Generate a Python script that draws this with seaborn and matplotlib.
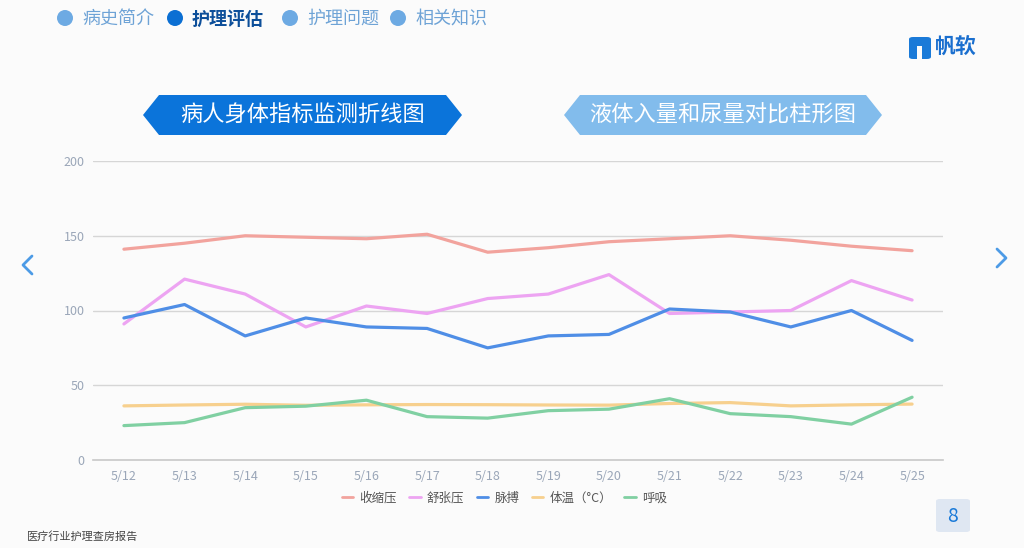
import pandas as pd
import seaborn as sns
import matplotlib.pyplot as plt
from matplotlib.patches import Polygon, Ellipse, FancyBboxPatch, Rectangle
from matplotlib.lines import Line2D

# data
dates = ["5/12", "5/13", "5/14", "5/15", "5/16", "5/17", "5/18",
         "5/19", "5/20", "5/21", "5/22", "5/23", "5/24", "5/25"]
systolic = [141, 145, 150, 149, 148, 151, 139, 142, 146, 148, 150, 147, 143, 140]
diastolic = [91, 121, 111, 89, 103, 98, 108, 111, 124, 98, 99, 100, 120, 107]
pulse = [95, 104, 83, 95, 89, 88, 75, 83, 84, 101, 99, 89, 100, 80]
temperature = [36.2, 36.8, 37.3, 36.6, 36.9, 37.1, 37.0, 36.8, 36.7, 37.8, 38.4, 36.2, 36.9, 37.4]
respiration = [23, 25, 35, 36, 40, 29, 28, 33, 34, 41, 31, 29, 24, 42]

series_names = ["收缩压", "舒张压", "脉搏", "体温（°C）", "呼吸"]
series_colors = ["#f2a39d", "#eda4f2", "#4f8ee6", "#f7d08e", "#80d0a2"]
y_ticks = [0, 50, 100, 150, 200]

nav_items = ["病史简介", "护理评估", "护理问题", "相关知识"]
banner_titles = ["病人身体指标监测折线图", "液体入量和尿量对比柱形图"]

rows = []
for name, vals in zip(series_names, [systolic, diastolic, pulse, temperature, respiration]):
    for d, v in zip(dates, vals):
        rows.append({"date": d, "value": v, "series": name})
df = pd.DataFrame(rows)

sns.set_style("white")
plt.rcParams["font.family"] = ["Noto Sans CJK SC", "DejaVu Sans"]

fig = plt.figure(figsize=(10.24, 5.48), dpi=100)
fig.patch.set_facecolor("#fbfbfb")
W, H = 1024, 548

def fx(px):
    return px / W

def fy(py):
    return 1 - py / H

# chart area
ax = fig.add_axes([fx(93), fy(460), fx(943) - fx(93), fy(161) - fy(460)])
ax.set_facecolor("#fbfbfb")
sns.lineplot(data=df, x="date", y="value", hue="series", palette=series_colors,
             hue_order=series_names, sort=False, linewidth=2.3, ax=ax, legend=False)
ax.set_xlim(-0.51, len(dates) - 1 + 0.51)
ax.set_ylim(0, 200)
ax.set_yticks(y_ticks)
ax.set_xlabel("")
ax.set_ylabel("")
for y in y_ticks[1:]:
    ax.axhline(y, color="#d6d6d6", linewidth=1, zorder=0)
for s in ["top", "right", "left"]:
    ax.spines[s].set_visible(False)
ax.spines["bottom"].set_color("#c8c8c8")
ax.spines["bottom"].set_linewidth(1.2)
ax.tick_params(axis="both", length=0, labelsize=9, colors="#9aa6b8")
ax.tick_params(axis="x", pad=7)
ax.tick_params(axis="y", pad=6)

handles = [Line2D([0], [0], color=c, linewidth=2) for c in series_colors]
leg = ax.legend(handles, series_names, loc="upper center", bbox_to_anchor=(0.484, -0.068),
                ncol=5, frameon=False, fontsize=9, handlelength=0.9, handletextpad=0.5,
                columnspacing=1.0)
for t in leg.get_texts():
    t.set_color("#555555")

# top navigation
nav_x = [65, 175, 290, 398]
for i, (label, x) in enumerate(zip(nav_items, nav_x)):
    active = i == 1
    fig.patches.append(Ellipse((fx(x), fy(18)), width=16 / W, height=16 / H,
                               transform=fig.transFigure,
                               facecolor="#0b6fd3" if active else "#6daae3",
                               edgecolor="none"))
    fig.text(fx(x + 17), fy(19), label, fontsize=13, va="center", ha="left",
             color="#0d4f9a" if active else "#6ea3d6",
             fontweight="bold" if active else "normal")

# logo
fig.patches.append(FancyBboxPatch((fx(909), fy(59)), fx(22), fy(37) - fy(59),
                                  boxstyle="round,pad=0.0,rounding_size=0.004",
                                  transform=fig.transFigure, facecolor="#1a7ad8",
                                  edgecolor="none"))
fig.patches.append(Rectangle((fx(917), fy(59)), fx(5), fy(46) - fy(59),
                             transform=fig.transFigure, facecolor="#fbfbfb",
                             edgecolor="none"))
fig.text(fx(935), fy(47), "帆软", fontsize=15, fontweight="bold", color="#1a6fcf",
         va="center", ha="left")

# banners
def banner(x0, x1, yc, color, text):
    h = 20
    pts = [(x0, yc), (x0 + 16, yc - h), (x1 - 16, yc - h), (x1, yc),
           (x1 - 16, yc + h), (x0 + 16, yc + h)]
    fig.patches.append(Polygon([(fx(px), fy(py)) for px, py in pts], closed=True,
                               transform=fig.transFigure, facecolor=color,
                               edgecolor="none"))
    fig.text(fx((x0 + x1) / 2), fy(yc), text, fontsize=16, color="white",
             ha="center", va="center")

banner(143, 462, 115, "#0b74da", banner_titles[0])
banner(564, 882, 115, "#82bcec", banner_titles[1])

# side arrows
fig.add_artist(Line2D([fx(32), fx(23), fx(32)], [fy(256), fy(265), fy(274)],
                      transform=fig.transFigure, color="#4d9be6", linewidth=2))
fig.add_artist(Line2D([fx(997), fx(1006), fx(997)], [fy(249), fy(258), fy(267)],
                      transform=fig.transFigure, color="#4d9be6", linewidth=2))

# footer
fig.text(fx(27), fy(537), "医疗行业护理查房报告", fontsize=8, color="#444444",
         ha="left", va="center")
fig.patches.append(FancyBboxPatch((fx(936), fy(532)), fx(34), fy(499) - fy(532),
                                  boxstyle="round,pad=0.0,rounding_size=0.004",
                                  transform=fig.transFigure, facecolor="#dfe7f2",
                                  edgecolor="none"))
fig.text(fx(953), fy(516), "8", fontsize=14, color="#1a7ad8", ha="center", va="center")

fig.savefig("out.png", dpi=100, facecolor=fig.get_facecolor())
